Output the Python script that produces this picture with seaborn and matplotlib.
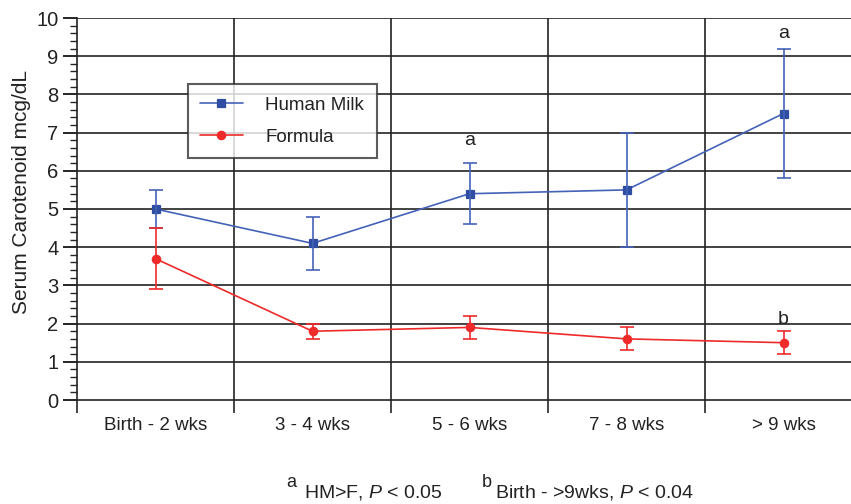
import numpy as np
import pandas as pd
import matplotlib
matplotlib.use("Agg")
import matplotlib.pyplot as plt
import seaborn as sns
from matplotlib.ticker import MultipleLocator

periods = ["Birth - 2 wks", "3 - 4 wks", "5 - 6 wks", "7 - 8 wks", "> 9 wks"]
milk_mean = [5.0, 4.1, 5.4, 5.5, 7.5]
milk_err = [0.5, 0.7, 0.8, 1.5, 1.7]
formula_mean = [3.7, 1.8, 1.9, 1.6, 1.5]
formula_err = [0.8, 0.2, 0.3, 0.3, 0.3]

# significance letters: (period index, y position, letter)
marks = [(2, 6.8, "a"), (4, 9.6, "a"), (4, 2.1, "b")]

blue = "#4462b8"
red = "#ee2a2a"

sns.set_style("white")
plt.rcParams["font.family"] = ["Liberation Sans", "DejaVu Sans"]
plt.rcParams["mathtext.fontset"] = "custom"
plt.rcParams["mathtext.rm"] = "Liberation Sans"
plt.rcParams["mathtext.it"] = "Liberation Sans:italic"

df = pd.DataFrame({
    "period": periods * 2,
    "value": milk_mean + formula_mean,
    "group": ["Human Milk"] * 5 + ["Formula"] * 5,
})

fig = plt.figure(figsize=(8.51, 5.04), dpi=100)
ax = fig.add_axes([77 / 851, 104 / 504, 785 / 851, 382 / 504])

# gridlines first so the data sits on top
ax.set_ylim(0, 10)
ax.set_xlim(-0.5, 4.5)
for y in range(1, 11):
    ax.axhline(y, color="#222222", lw=1.2, zorder=1)
for x in [0.5, 1.5, 2.5, 3.5]:
    ax.axvline(x, color="#222222", lw=1.2, zorder=1)

sns.pointplot(data=df, x="period", y="value", hue="group", order=periods,
              hue_order=["Human Milk", "Formula"], palette=[blue, red],
              markers=["s", "o"], linestyles=["-", "-"], errorbar=None,
              markersize=6, linewidth=1.2, ax=ax, zorder=3)
for line in ax.lines:
    if line.get_color() == blue:
        line.set_markerfacecolor("#2f4ea3")
        line.set_markeredgecolor("#2f4ea3")

xs = np.arange(len(periods))
ax.errorbar(xs, milk_mean, yerr=milk_err, fmt="none", ecolor=blue,
            elinewidth=1.2, capsize=4.7, capthick=1.2, zorder=3)
ax.errorbar(xs, formula_mean, yerr=formula_err, fmt="none", ecolor=red,
            elinewidth=1.2, capsize=4.7, capthick=1.2, zorder=3)

for i, y, s in marks:
    ax.text(i, y, s, ha="center", va="center", fontsize=14, color="#222222")

ax.set_xlim(-0.5, 4.5)
ax.set_ylim(0, 10)
ax.set_xlabel("")
ax.set_ylabel("")
fig.text(22 / 851, 1 - 192 / 504, "Serum Carotenoid mcg/dL", rotation=90,
         ha="center", va="center", fontsize=15, color="#222222")

ax.yaxis.set_major_locator(MultipleLocator(1))
ax.yaxis.set_minor_locator(MultipleLocator(0.2))
ax.tick_params(axis="y", which="major", direction="out", length=10, width=1.2,
               labelsize=14.5, colors="black", labelcolor="#222222", left=True)
ax.tick_params(axis="y", which="minor", direction="out", length=5, width=1, left=True)

ax.set_xticks(xs)
ax.set_xticklabels(periods)
ax.set_xticks([-0.5, 0.5, 1.5, 2.5, 3.5], minor=True)
ax.tick_params(axis="x", which="major", length=0, pad=12, labelsize=13.5,
               labelcolor="#222222")
ax.tick_params(axis="x", which="minor", direction="out", length=9, width=1.2,
               bottom=True)

for side in ["top", "right"]:
    ax.spines[side].set_visible(False)
for side in ["left", "bottom"]:
    ax.spines[side].set_color("#222222")
    ax.spines[side].set_linewidth(1.2)

leg = ax.legend(loc="upper left", bbox_to_anchor=(0.141, 0.826), fontsize=13.5,
                frameon=True, fancybox=False, edgecolor="#333333",
                borderpad=0.65, labelspacing=0.8, handlelength=2.3,
                handletextpad=1.2, borderaxespad=0)
leg.get_frame().set_linewidth(1.5)
leg.set_zorder(5)
for t in leg.get_texts():
    t.set_color("#222222")

# footnote, superscript letters drawn a little higher than the text
fig.text(286 / 851, 17 / 504, "a", fontsize=13, color="#222222", ha="left", va="baseline")
fig.text(304 / 851, 7 / 504, r"HM>F, $\mathit{P}$ < 0.05",
         fontsize=14, color="#222222", ha="left", va="baseline")
fig.text(482 / 851, 17 / 504, "b", fontsize=13, color="#222222", ha="left", va="baseline")
fig.text(495 / 851, 7 / 504, r"Birth - >9wks, $\mathit{P}$ < 0.04",
         fontsize=14, color="#222222", ha="left", va="baseline")

fig.savefig("out.png", dpi=100)
